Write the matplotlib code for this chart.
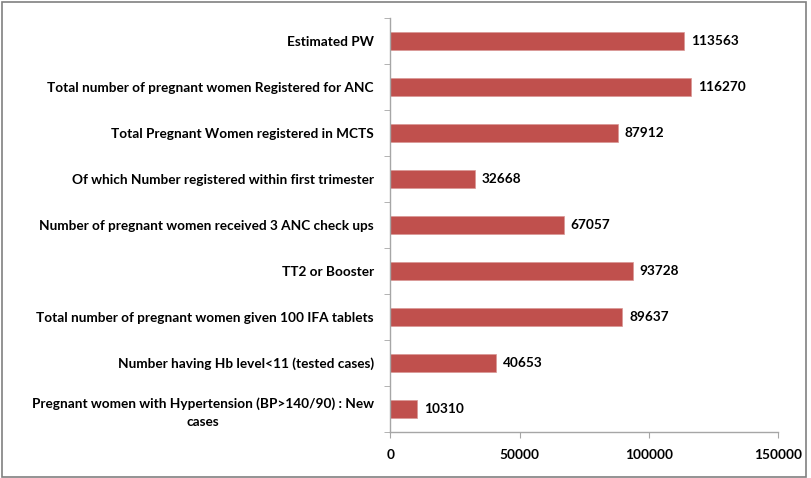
import matplotlib
matplotlib.use("Agg")
import matplotlib.pyplot as plt
from matplotlib.patches import Rectangle

plt.rcParams['font.family'] = ['Lato', 'DejaVu Sans']

# data, top to bottom as in the chart
labels = [
    "Estimated PW",
    "Total number of pregnant women Registered for ANC",
    "Total Pregnant Women registered in MCTS",
    "Of which Number registered within first trimester",
    "Number of pregnant women received 3 ANC check ups",
    "TT2 or Booster",
    "Total number of pregnant women given 100 IFA tablets",
    "Number having Hb level<11 (tested cases)",
    "Pregnant women with Hypertension (BP>140/90) : New\ncases",
]
values = [113563, 116270, 87912, 32668, 67057, 93728, 89637, 40653, 10310]
xticks = [0, 50000, 100000, 150000]

bar_color = "#C0504D"
axis_color = "#A6A6A6"
fs = 9.8

fig = plt.figure(figsize=(8.11, 4.78), dpi=100)
ax = fig.add_axes([0.4815, 0.0962, 0.4778, 0.8661])

pos = list(range(len(labels)))
ax.barh(pos, values, height=0.4, color=bar_color, edgecolor="#D99694", linewidth=0.5)
ax.set_ylim(len(labels) - 0.5, -0.5)
ax.set_xlim(0, 150000)

for p, v in zip(pos, values):
    ax.text(v + 2700, p, str(v), va="center", ha="left",
            fontsize=fs, fontweight="bold", color="black")

# category labels
ax.set_yticks(pos)
ax.set_yticklabels(labels, fontsize=fs, fontweight="bold", ha="right",
                   multialignment="center", linespacing=1.6)
ax.tick_params(axis="y", length=0, pad=12)
# tick marks at category boundaries
ax.set_yticks([p + 0.5 for p in [-1] + pos], minor=True)
ax.tick_params(axis="y", which="minor", length=4, color=axis_color, direction="out")

ax.set_xticks(xticks)
ax.set_xticklabels([str(x) for x in xticks], fontsize=fs, fontweight="bold")
ax.tick_params(axis="x", length=4, color=axis_color, pad=8)

for s in ["top", "right"]:
    ax.spines[s].set_visible(False)
for s in ["left", "bottom"]:
    ax.spines[s].set_color(axis_color)
    ax.spines[s].set_linewidth(1.0)

fig.patches.append(Rectangle((0.003, 0.003), 0.991, 0.992, transform=fig.transFigure,
                             fill=False, edgecolor="#808080", linewidth=1.2))

fig.savefig("out.png", dpi=100)
